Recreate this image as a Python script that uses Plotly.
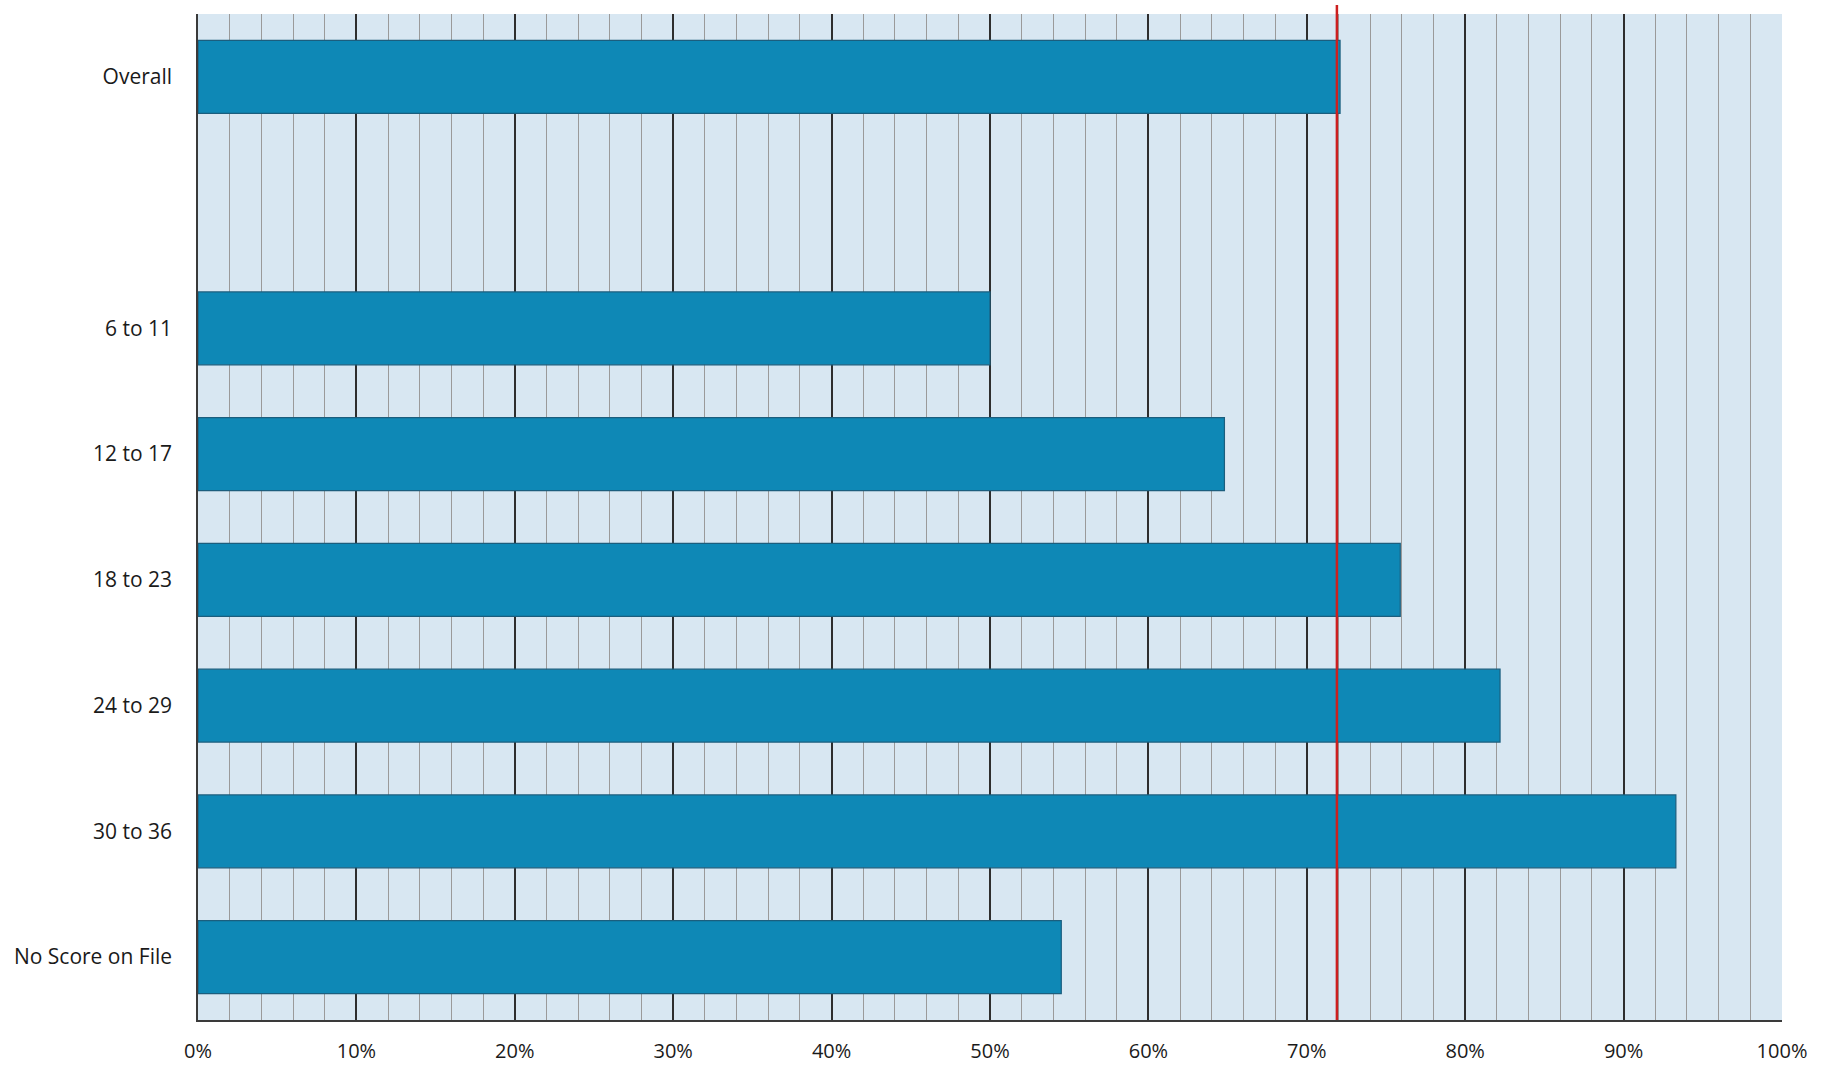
import plotly.graph_objects as go

categories = ["Overall", " ", "6 to 11", "12 to 17", "18 to 23", "24 to 29", "30 to 36", "No Score on File"]
values = [72.1, None, 50.0, 64.8, 75.9, 82.2, 93.3, 54.5]
reference_value = 71.9
x_tickvals = [0, 10, 20, 30, 40, 50, 60, 70, 80, 90, 100]
x_ticktext = ["0%", "10%", "20%", "30%", "40%", "50%", "60%", "70%", "80%", "90%", "100%"]

fig = go.Figure()
fig.add_trace(go.Bar(
    y=categories,
    x=values,
    orientation="h",
    width=0.58,
    marker=dict(color="#0e88b6", line=dict(color="#1b5e7e", width=1.2)),
    hoverinfo="x+y",
))

fig.add_shape(
    type="line", xref="x", yref="paper",
    x0=reference_value, x1=reference_value, y0=0, y1=1.009,
    line=dict(color="#cc1f1f", width=2.5),
    layer="above",
)

fig.update_layout(
    width=1834, height=1068,
    margin=dict(l=198, r=52, t=14, b=48),
    paper_bgcolor="white",
    plot_bgcolor="#d8e7f2",
    showlegend=False,
    font=dict(family="Open Sans, Lato, sans-serif", size=21, color="#1a1a1a"),
)

fig.update_xaxes(
    range=[0, 100],
    tickvals=x_tickvals,
    ticktext=x_ticktext,
    showgrid=True,
    gridcolor="#2e2e2e",
    gridwidth=1.5,
    minor=dict(dtick=2, showgrid=True, gridcolor="#9a9a9a", gridwidth=1),
    zeroline=False,
    showline=True,
    linecolor="#3a3a3a",
    linewidth=1.5,
    ticks="",
    ticklabelstandoff=12,
    tickfont=dict(size=20),
    automargin=False,
)

fig.update_yaxes(
    type="category",
    categoryorder="array",
    categoryarray=categories,
    autorange="reversed",
    showgrid=False,
    zeroline=False,
    showline=True,
    linecolor="#3a3a3a",
    linewidth=1.5,
    ticks="",
    ticklabelstandoff=20,
    tickfont=dict(size=21),
    automargin=False,
)

fig.write_html("out.html")
